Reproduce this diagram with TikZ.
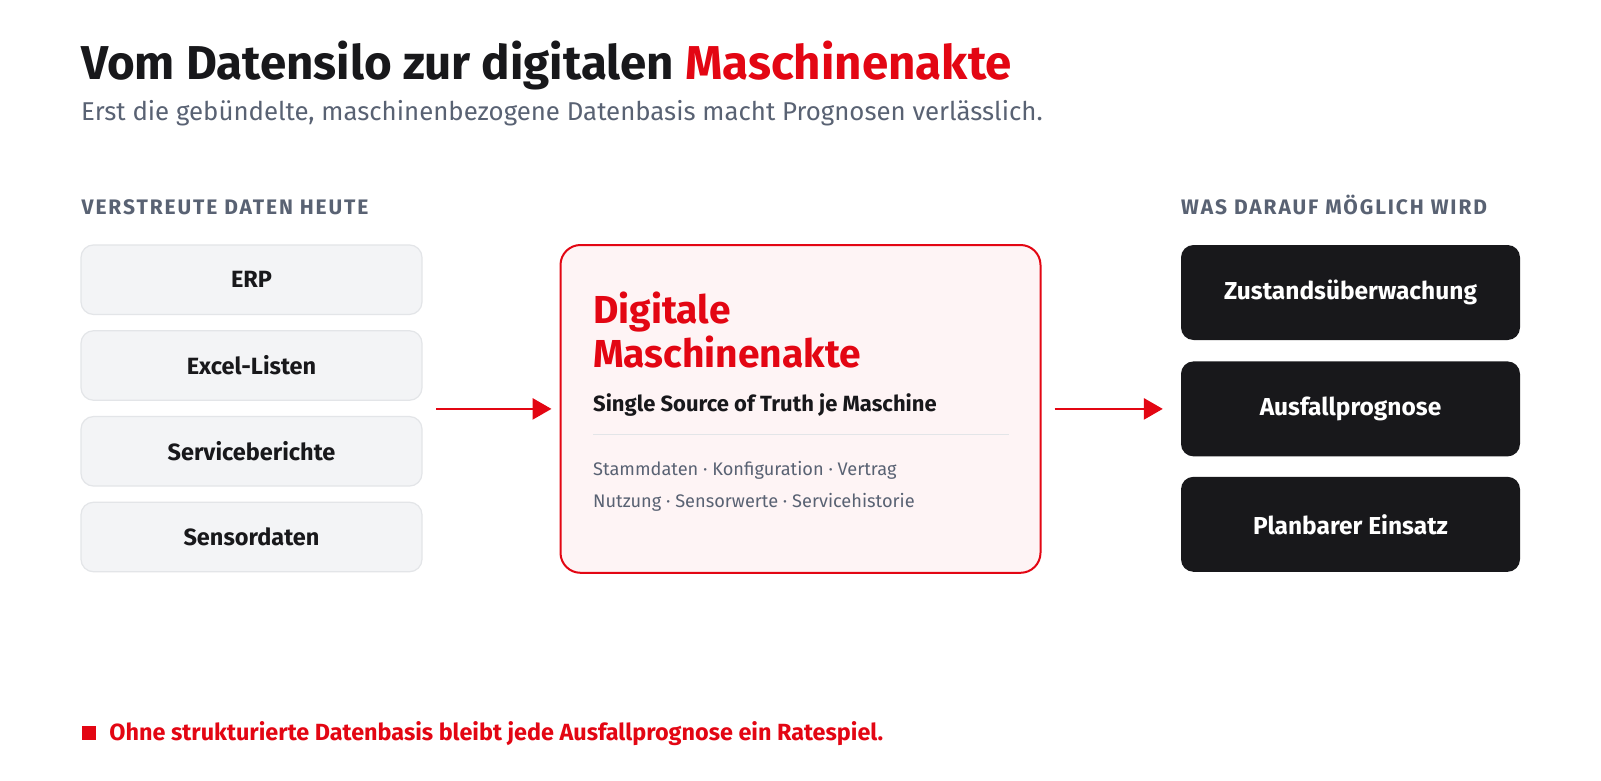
\documentclass[tikz,border=0pt]{standalone}
\usepackage{fontspec}
\setmainfont{Fira Sans}
\usetikzlibrary{arrows.meta}
\definecolor{brandred}{HTML}{E30613}
\definecolor{ink}{HTML}{18181B}
\definecolor{mutedgray}{HTML}{596273}
\definecolor{boxgray}{HTML}{F3F4F6}
\definecolor{boxline}{HTML}{E3E5E8}
\definecolor{pinkfill}{HTML}{FEF4F5}
\tikzset{
  srcbox/.style={draw=boxline, line width=1.2pt, fill=boxgray, rounded corners=12.5pt,
    minimum width=341pt, minimum height=69.5pt, inner sep=0pt, text=ink,
    font=\bfseries\fontsize{23.5}{28}\selectfont},
  outbox/.style={fill=ink, rounded corners=12.5pt, minimum width=339pt, minimum height=95pt,
    inner sep=0pt, text=white, font=\bfseries\fontsize{24.5}{28}\selectfont},
  sectionlabel/.style={anchor=base west, text=mutedgray, inner sep=0pt,
    font=\bfseries\fontsize{21}{25}\selectfont\addfontfeatures{LetterSpace=9}},
  flowarrow/.style={draw=brandred, line width=2.8pt, -{Triangle[length=19pt,width=21pt]}},
}
\begin{document}
\begin{tikzpicture}[x=1pt,y=-1pt]
\useasboundingbox (0,0) rectangle (1601,781);
\fill[white] (0,0) rectangle (1601,781);
% title
\node[anchor=base west, inner sep=0pt, text=ink, font=\bfseries\fontsize{47.5}{52}\selectfont] (title) at (81,79.6)
  {Vom Datensilo zur digitalen \textcolor{brandred}{Maschinenakte}};
\node[anchor=base west, inner sep=0pt, text=mutedgray, font=\fontsize{25.8}{30}\selectfont] (subtitle) at (81,120.5)
  {Erst die gebündelte, maschinenbezogene Datenbasis macht Prognosen verlässlich.};
% section labels
\node[sectionlabel] (lefthead) at (81.5,214) {VERSTREUTE DATEN HEUTE};
\node[sectionlabel] (righthead) at (1181,214) {WAS DARAUF MÖGLICH WIRD};
% source boxes
\node[srcbox] (erp) at (251.5,279.7) {ERP};
\node[srcbox] (excel) at (251.5,365.5) {Excel-Listen};
\node[srcbox] (service) at (251.5,451.3) {Serviceberichte};
\node[srcbox] (sensor) at (251.5,537) {Sensordaten};
% central box
\node[draw=brandred, line width=2pt, fill=pinkfill, rounded corners=20pt,
  minimum width=480pt, minimum height=327.8pt, inner sep=0pt] (akte) at (800.5,408.9) {};
\node[anchor=base west, inner sep=0pt, text=brandred, font=\bfseries\fontsize{39}{44}\selectfont] (akteTitleA) at (593,323.5) {Digitale};
\node[anchor=base west, inner sep=0pt, text=brandred, font=\bfseries\fontsize{39}{44}\selectfont] (akteTitleB) at (593,367.5) {Maschinenakte};
\node[anchor=base west, inner sep=0pt, text=ink, font=\bfseries\fontsize{22}{26}\selectfont] (akteSub) at (593,411) {Single Source of Truth je Maschine};
\coordinate (divA) at (593,434.5);
\coordinate (divB) at (1008.5,434.5);
\draw[boxline, line width=1.5pt] (divA) -- (divB);
\node[anchor=base west, inner sep=0pt, text=mutedgray, font=\fontsize{18.2}{22}\selectfont] (akteL1) at (593,475.5) {Stammdaten · Konfiguration · Vertrag};
\node[anchor=base west, inner sep=0pt, text=mutedgray, font=\fontsize{18.2}{22}\selectfont] (akteL2) at (593,507) {Nutzung · Sensorwerte · Servicehistorie};
% output boxes
\node[outbox] (zustand) at (1350.5,292.5) {Zustandsüberwachung};
\node[outbox] (ausfall) at (1350.5,408.9) {Ausfallprognose};
\node[outbox] (einsatz) at (1350.5,524.3) {Planbarer Einsatz};
% arrows
\coordinate (arrAstart) at (436,408.9);
\coordinate (arrBstart) at (1054.5,408.9);
\draw[flowarrow, shorten >=8pt] (arrAstart) -- (akte.west);
\draw[flowarrow, shorten >=18pt] (arrBstart) -- (ausfall.west);
% footer
\fill[brandred] (81.7,726) rectangle (96,740);
\node[anchor=base west, inner sep=0pt, text=brandred, font=\bfseries\fontsize{23.4}{27}\selectfont] (footer) at (109.2,740)
  {Ohne strukturierte Datenbasis bleibt jede Ausfallprognose ein Ratespiel.};
\end{tikzpicture}
\end{document}
